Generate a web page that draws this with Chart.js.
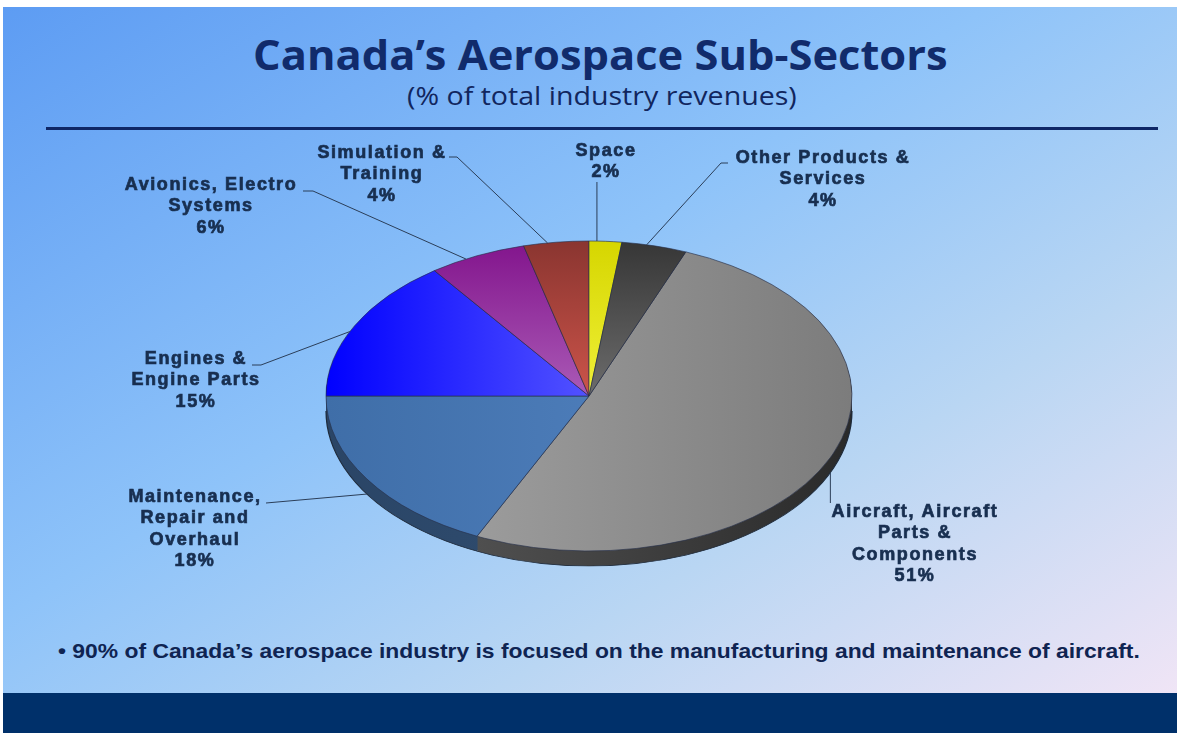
<!DOCTYPE html>
<html>
<head>
<meta charset="utf-8">
<title>Canada's Aerospace Sub-Sectors</title>
<script src="https://cdn.jsdelivr.net/npm/chart.js@4.4.1/dist/chart.umd.min.js"></script>
<style>
  html, body { margin: 0; padding: 0; background: #fff; width: 1180px; height: 733px; overflow: hidden; }
  #slide { position: absolute; left: 3px; top: 7px; width: 1174px; height: 726px;
    background: linear-gradient(to bottom right, #5d9cf3 0%, #8ec3f9 42%, #b9d6f3 68%, #f5e6f6 100%); }
  #footerBar { position: absolute; left: 3px; top: 693px; width: 1174px; height: 40px; background: #00306a; }
  .txt { position: absolute; white-space: nowrap; transform-origin: left center; line-height: 1.2; }
  #title { font: 700 42px "Open Sans"; color: #112b6b; }
  #subtitle { font: 400 26px "Open Sans"; color: #11265e; }
  #rule { position: absolute; left: 46px; top: 127px; width: 1112px; height: 3px; background: #0f2766; }
  #note { font: 700 21px "Liberation Sans"; color: #0f2452; }
  #pieChart { position: absolute; left: 0; top: 0; }
</style>
</head>
<body>
<div id="slide"></div>
<div id="footerBar"></div>
<div id="title" class="txt">Canada’s Aerospace Sub-Sectors</div>
<div id="subtitle" class="txt">(% of total industry revenues)</div>
<div id="rule"></div>
<div id="note" class="txt">• 90% of Canada’s aerospace industry is focused on the manufacturing and maintenance of aircraft.</div>
<canvas id="pieChart" width="1180" height="733"></canvas>

<script>
// data
const categories = [
  ["Aircraft, Aircraft", "Parts &", "Components"],
  ["Maintenance,", "Repair and", "Overhaul"],
  ["Engines &", "Engine Parts"],
  ["Avionics, Electro", "Systems"],
  ["Simulation &", "Training"],
  ["Space"],
  ["Other Products &", "Services"]
];
const shares = [51, 18, 15, 6, 4, 2, 4];

// styles
const faceStops = [
  ["h", "#a8a8a8", "#7c7c7c"],
  ["h", "#3f6ea8", "#5889c8"],
  ["h", "#0000ff", "#a4a4ff"],
  ["v", "#82148c", "#aa5ab6"],
  ["v", "#8a3530", "#cc544a"],
  ["v", "#d6d600", "#f0f038"],
  ["v", "#363636", "#6c6c6c"]
];
const sideStops = [
  ["#5e5e5e", "#2a2a2a"],
  ["#2a4566", "#36557a"],
  ["#00008a", "#2020a0"],
  ["#4a0a50", "#5a2a60"],
  ["#4a1c18", "#602a26"],
  ["#707000", "#808010"],
  ["#202020", "#303030"]
];

// label placement (centre of first text line, start of leader line, where it meets the slice)
const labelLayout = [
  { x: 914, y: 512, ex: null, ey: 503, tick: 0, frac: 0.5 },
  { x: 194, y: 497, ex: 266, ey: 503, tick: 0, frac: 0.5 },
  { x: 195, y: 359, ex: 252, ey: 365, tick: 9, frac: 0.455 },
  { x: 210, y: 185, ex: 303, ey: 191, tick: 10, frac: 0.375 },
  { x: 381, y: 153, ex: 449, ey: 157, tick: 8, frac: 0.37 },
  { x: 605, y: 151, ex: null, ey: 182, tick: 0, frac: 0.24 },
  { x: 822, y: 158, ex: 728, ey: 163, tick: -7, frac: 0.38 }
];

const pieTilt = 155 / 263;
const sideDepth = 15;
const lineGap = 21.4;

function faceFill(c) {
  const area = c.chart.chartArea;
  const s = faceStops[c.dataIndex];
  if (!area) return s[1];
  const g = s[0] === "h"
    ? c.chart.ctx.createLinearGradient(area.left, 0, area.right, 0)
    : c.chart.ctx.createLinearGradient(0, area.top, 0, (area.top + area.bottom) / 2);
  g.addColorStop(0, s[1]);
  g.addColorStop(1, s[2]);
  return g;
}

const pie3d = {
  id: "pie3d",
  beforeDatasetsDraw(chart) {
    const ctx = chart.ctx;
    const arcs = chart.getDatasetMeta(0).data;
    const cx = arcs[0].x, cy = arcs[0].y, r = arcs[0].outerRadius;
    ctx.save();
    ctx.translate(cx, cy);
    ctx.scale(1, pieTilt);
    ctx.translate(-cx, -cy);

    const sides = sideStops.map((s) => {
      const g = ctx.createLinearGradient(cx - r, 0, cx + r, 0);
      g.addColorStop(0, s[0]);
      g.addColorStop(1, s[1]);
      return g;
    });
    for (let i = sideDepth; i >= 1; i--) {
      const oy = cy + i / pieTilt;
      arcs.forEach((arc, j) => {
        ctx.beginPath();
        ctx.moveTo(cx, oy);
        ctx.arc(cx, oy, arc.outerRadius, arc.startAngle, arc.endAngle);
        ctx.closePath();
        ctx.fillStyle = sides[j];
        ctx.fill();
      });
    }
    ctx.beginPath();
    ctx.arc(cx, cy + sideDepth / pieTilt, r, 0, Math.PI);
    ctx.strokeStyle = "#1e2a3a";
    ctx.lineWidth = 1.2;
    ctx.stroke();
  },
  afterDatasetsDraw(chart) {
    chart.ctx.restore();
  }
};

const pieLabels = {
  id: "pieLabels",
  afterDraw(chart) {
    const ctx = chart.ctx;
    const arcs = chart.getDatasetMeta(0).data;
    ctx.save();
    ctx.font = "bold 18px 'Liberation Sans'";
    ctx.letterSpacing = "1.6px";
    ctx.textAlign = "center";
    ctx.textBaseline = "middle";
    arcs.forEach((arc, i) => {
      const lay = labelLayout[i];
      const a = arc.startAngle + (arc.endAngle - arc.startAngle) * lay.frac;
      const ax = arc.x + arc.outerRadius * Math.cos(a);
      let ay = arc.y + arc.outerRadius * Math.sin(a) * pieTilt;
      if (Math.sin(a) > 0) ay += sideDepth;

      ctx.beginPath();
      if (lay.ex === null) {
        ctx.moveTo(ax, lay.ey);
      } else {
        ctx.moveTo(lay.ex, lay.ey);
        ctx.lineTo(lay.ex + lay.tick, lay.ey);
      }
      ctx.lineTo(ax, ay);
      ctx.strokeStyle = "#2b3e58";
      ctx.lineWidth = 1;
      ctx.stroke();

      const lines = categories[i].concat([shares[i] + "%"]);
      ctx.fillStyle = "#182f50";
      ctx.strokeStyle = "#182f50";
      ctx.lineWidth = 0.7;
      lines.forEach((t, k) => {
        ctx.fillText(t, lay.x + 1, lay.y + k * lineGap);
        ctx.strokeText(t, lay.x + 1, lay.y + k * lineGap);
      });
    });
    ctx.restore();
  }
};

new Chart(document.getElementById("pieChart"), {
  type: "pie",
  data: {
    labels: categories,
    datasets: [{
      data: shares,
      backgroundColor: faceFill,
      borderColor: "#26304a",
      borderWidth: 0.8,
      clip: false
    }]
  },
  options: {
    responsive: false,
    animation: false,
    events: [],
    rotation: 21.6,
    radius: 263,
    layout: { padding: { left: 326, right: 328, top: 133, bottom: 74 } },
    plugins: { legend: { display: false }, tooltip: { enabled: false } }
  },
  plugins: [pie3d, pieLabels]
});

function fitText(id, left, right, centerY) {
  const el = document.getElementById(id);
  const w = el.offsetWidth, h = el.offsetHeight;
  el.style.left = left + "px";
  el.style.top = (centerY - h / 2) + "px";
  el.style.transform = "scaleX(" + ((right - left) / w) + ")";
}
document.fonts.ready.then(() => {
  fitText("title", 253, 948, 53);
  fitText("subtitle", 407, 797, 95);
  fitText("note", 58, 1140, 651);
});
</script>
</body>
</html>
